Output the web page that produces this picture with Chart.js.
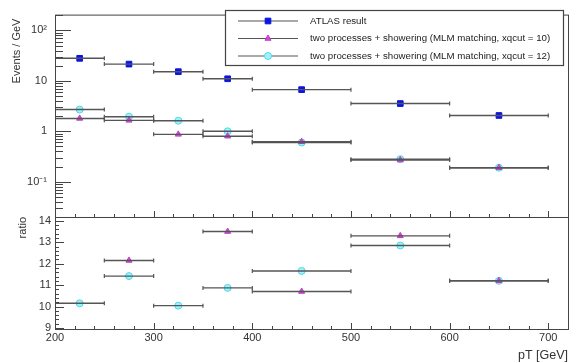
<!DOCTYPE html>
<html>
<head>
<meta charset="utf-8">
<script src="https://cdn.jsdelivr.net/npm/chart.js@4.4.1/dist/chart.umd.min.js"></script>
<style>
  html, body { margin: 0; padding: 0; background: #fff; }
  #wrap { width: 578px; height: 363px; }
</style>
</head>
<body>
<div id="wrap"><canvas id="c" width="578" height="363"></canvas></div>
<script>
// bins in pT [GeV]
const binLow = [200, 250, 300, 350, 400, 500, 600];
const binHigh = [250, 300, 350, 400, 500, 600, 700];
const binCenter = [225, 275, 325, 375, 450, 550, 650];

// Events / GeV
const atlas = [28, 21.5, 15.2, 11, 6.7, 3.55, 2.06];
const mlm10 = [1.8, 1.65, 0.87, 0.8, 0.62, 0.27, 0.19];
const mlm12 = [2.7, 1.95, 1.62, 1.0, 0.6, 0.28, 0.19];

// ratio panel (null = outside the drawn range)
const ratio10 = [null, 12.15, null, 13.5, 10.7, 13.3, 11.2];
const ratio12 = [10.15, 11.42, 10.04, 10.87, 11.66, 12.85, 11.2];

const seriesNames = [
    'ATLAS result',
    'two processes + showering (MLM matching, xqcut = 10)',
    'two processes + showering (MLM matching, xqcut = 12)'
];

const xTicks = [200, 300, 400, 500, 600, 700];
const topTicks = [0.1, 1, 10, 100];
const topTickLabels = ['10⁻¹', '1', '10', '10²'];
const ratioTicks = [9, 10, 11, 12, 13, 14];

const FONT = 'Liberation Sans, Arial, sans-serif';
const barColor = '#555';
const markerStyles = [
    { pointStyle: 'rect', radius: 4, fill: '#0a14e6', stroke: '#0a14e6' },
    { pointStyle: 'triangle', radius: 3.5, fill: '#d24ad8', stroke: '#c03cc8' },
    { pointStyle: 'circle', radius: 3.5, fill: '#9ff2fa', stroke: '#4fd8ea' }
];

function errBars(values) {
    const pts = [];
    values.forEach(function (v, i) {
        if (v === null) return;
        pts.push({ x: binLow[i], y: v }, { x: binHigh[i], y: v }, { x: binHigh[i], y: null });
    });
    return pts;
}

function points(values) {
    const pts = [];
    values.forEach(function (v, i) {
        if (v !== null) pts.push({ x: binCenter[i], y: v });
    });
    return pts;
}

function barSet(values, axis) {
    return {
        data: errBars(values),
        yAxisID: axis,
        showLine: true,
        spanGaps: false,
        borderColor: barColor,
        borderWidth: 1.4,
        pointStyle: 'line',
        rotation: 90,
        pointRadius: 2,
        pointBorderColor: barColor,
        pointBorderWidth: 1.2,
        pointHoverRadius: 2
    };
}

function markSet(values, axis, k) {
    const m = markerStyles[k];
    return {
        label: seriesNames[k],
        data: points(values),
        yAxisID: axis,
        showLine: false,
        pointStyle: m.pointStyle,
        pointRadius: m.radius,
        pointHoverRadius: m.radius,
        pointBackgroundColor: m.fill,
        pointBorderColor: m.stroke,
        pointBorderWidth: 1
    };
}

function drawTicks(ctx, chart) {
    const x = chart.scales.x, y = chart.scales.y, r = chart.scales.y2;
    ctx.save();
    ctx.strokeStyle = '#444';
    ctx.lineWidth = 1;

    // frames
    ctx.strokeRect(x.left + 0.5, y.top + 0.5, x.right - x.left, y.bottom - y.top);
    ctx.strokeRect(x.left + 0.5, r.top + 0.5, x.right - x.left, r.bottom - r.top);

    ctx.beginPath();
    // x ticks on both panels (inward)
    for (let v = 200; v <= 720; v += 20) {
        const px = Math.round(x.getPixelForValue(v)) + 0.5;
        const len = v % 100 === 0 ? 6 : 3;
        ctx.moveTo(px, y.bottom); ctx.lineTo(px, y.bottom - len);
        ctx.moveTo(px, r.bottom); ctx.lineTo(px, r.bottom - len);
    }
    // log y ticks
    for (let d = -2; d <= 2; d++) {
        for (let k = 1; k <= 9; k++) {
            const v = k * Math.pow(10, d);
            if (v < y.min || v > y.max) continue;
            const py = Math.round(y.getPixelForValue(v)) + 0.5;
            const len = k === 1 ? 16 : 8;
            ctx.moveTo(x.left, py); ctx.lineTo(x.left + len, py);
        }
    }
    // ratio y ticks
    for (let v = 9; v <= 14.2; v += 0.2) {
        const py = Math.round(r.getPixelForValue(v)) + 0.5;
        const major = Math.abs(v - Math.round(v)) < 0.01;
        ctx.moveTo(x.left, py); ctx.lineTo(x.left + (major ? 9 : 4), py);
    }
    ctx.stroke();
    ctx.restore();
}

function drawTitles(ctx, chart) {
    const x = chart.scales.x, y = chart.scales.y, r = chart.scales.y2;
    ctx.save();
    ctx.fillStyle = '#333';
    ctx.font = '11px ' + FONT;
    ctx.textBaseline = 'middle';

    ctx.save();
    ctx.translate(17, y.top + 4);
    ctx.rotate(-Math.PI / 2);
    ctx.textAlign = 'right';
    ctx.fillText('Events / GeV', 0, 0);
    ctx.restore();

    ctx.save();
    ctx.translate(23, r.top);
    ctx.rotate(-Math.PI / 2);
    ctx.textAlign = 'right';
    ctx.fillText('ratio', 0, 0);
    ctx.restore();

    ctx.font = '12.5px ' + FONT;
    ctx.textAlign = 'right';
    ctx.textBaseline = 'alphabetic';
    ctx.fillText('pT [GeV]', x.right, 359);
    ctx.restore();
}

function drawLegend(ctx) {
    const bx = 225, by = 10, bw = 338, bh = 55;
    const rows = [21, 38.5, 56];
    ctx.save();
    ctx.fillStyle = '#fff';
    ctx.fillRect(bx, by, bw, bh);
    ctx.strokeStyle = '#444';
    ctx.lineWidth = 1.2;
    ctx.strokeRect(bx + 0.5, by + 0.5, bw, bh);
    ctx.font = '9.7px ' + FONT;
    ctx.textBaseline = 'middle';
    seriesNames.forEach(function (name, k) {
        const m = markerStyles[k];
        const ry = rows[k];
        ctx.strokeStyle = barColor;
        ctx.lineWidth = 1.2;
        ctx.beginPath();
        ctx.moveTo(238, ry); ctx.lineTo(298, ry);
        ctx.stroke();
        ctx.fillStyle = m.fill;
        ctx.strokeStyle = m.stroke;
        ctx.lineWidth = 1;
        Chart.helpers.drawPoint(ctx, { pointStyle: m.pointStyle, radius: m.radius, rotation: 0, borderWidth: 1 }, 268, ry);
        ctx.fillStyle = '#222';
        ctx.fillText(name, 310, ry);
    });
    ctx.restore();
}

const rootStyle = {
    id: 'rootStyle',
    afterDraw: function (chart) {
        const ctx = chart.ctx;
        drawTicks(ctx, chart);
        drawLegend(ctx);
        drawTitles(ctx, chart);
    }
};

const tickFont = { family: FONT, size: 11 };

const ctx = document.getElementById('c').getContext('2d');
const chart = new Chart(ctx, {
    type: 'scatter',
    data: {
        datasets: [
            barSet(atlas, 'y'),
            barSet(mlm10, 'y'),
            barSet(mlm12, 'y'),
            markSet(atlas, 'y', 0),
            markSet(mlm10, 'y', 1),
            markSet(mlm12, 'y', 2),
            barSet(ratio10, 'y2'),
            barSet(ratio12, 'y2'),
            markSet(ratio10, 'y2', 1),
            markSet(ratio12, 'y2', 2)
        ]
    },
    options: {
        responsive: false,
        animation: false,
        events: [],
        layout: { padding: { top: 9, right: 10, left: 0, bottom: 0 } },
        plugins: {
            legend: { display: false },
            tooltip: { enabled: false }
        },
        scales: {
            x: {
                type: 'linear',
                min: 200,
                max: 720,
                afterBuildTicks: function (s) { s.ticks = xTicks.map(function (v) { return { value: v }; }); },
                afterFit: function (s) { s.height = 34; },
                grid: { display: false, drawTicks: false },
                border: { display: false },
                ticks: { font: tickFont, color: '#333', padding: 2, maxRotation: 0, autoSkip: false }
            },
            y2: {
                type: 'linear',
                position: 'left',
                stack: 'panels',
                stackWeight: 114,
                min: 8.95,
                max: 14.18,
                afterBuildTicks: function (s) { s.ticks = ratioTicks.map(function (v) { return { value: v }; }); },
                afterFit: function (s) { s.width = 55; },
                grid: { display: false, drawTicks: false },
                border: { display: false },
                ticks: { font: tickFont, color: '#333', padding: 4, autoSkip: false }
            },
            y: {
                type: 'logarithmic',
                position: 'left',
                stack: 'panels',
                stackWeight: 206,
                min: 0.02,
                max: 206,
                afterBuildTicks: function (s) { s.ticks = topTicks.map(function (v) { return { value: v }; }); },
                afterFit: function (s) { s.width = 55; },
                grid: { display: false, drawTicks: false },
                border: { display: false },
                ticks: {
                    font: tickFont, color: '#333', padding: 8, autoSkip: false,
                    callback: function (v) { return topTickLabels[topTicks.indexOf(v)]; }
                }
            }
        }
    },
    plugins: [rootStyle]
});
</script>
</body>
</html>
